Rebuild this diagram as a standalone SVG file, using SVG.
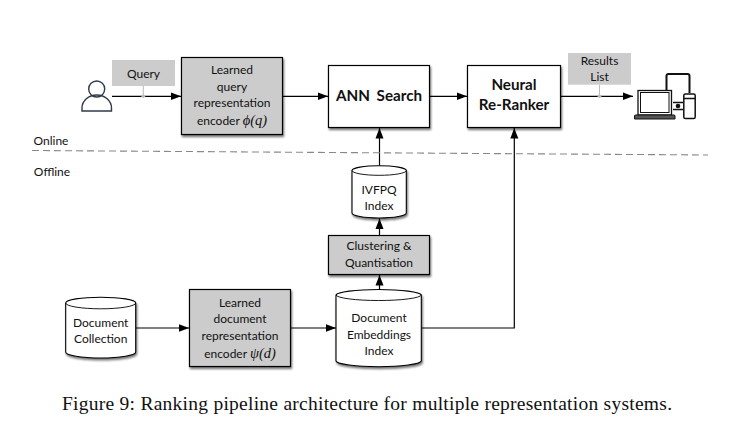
<svg xmlns="http://www.w3.org/2000/svg" width="746" height="439" viewBox="0 0 746 439">
<style>
text{font-family:"Lato","Open Sans","DejaVu Sans",sans-serif;fill:#111;text-anchor:middle;font-size:12px}
.b{font-size:15.2px;font-weight:700}
.m{font-family:"Liberation Serif",serif;font-style:italic;font-size:14.5px}
.cap{font-family:"Liberation Serif","DejaVu Serif",serif;font-size:19.5px;text-anchor:start}
.box{stroke:#000;stroke-width:1.2;filter:url(#s)}
.g{fill:#ccc}.w{fill:#fff}
.lab{fill:#ccc}
.c{fill:none;stroke:#000;stroke-width:1.2}
.t{fill:none;stroke:#bbb;stroke-width:1}
.cyl{fill:#fff;stroke:#000;stroke-width:1.1;filter:url(#s)}
.top{fill:none;stroke:#000;stroke-width:.9}
.pr{fill:none;stroke:#2f3a4a;stroke-width:1.4}
.ic{fill:none;stroke:#111;stroke-width:1.5}
</style>
<defs>
<filter id="s" x="-15%" y="-15%" width="130%" height="135%"><feDropShadow dx="1" dy="2" stdDeviation="1.2" flood-color="#000" flood-opacity=".55"/></filter>
<marker id="a" markerUnits="userSpaceOnUse" markerWidth="11" markerHeight="9" refX="10.5" refY="4.5" orient="auto"><path d="M0 .5L10.5 4.5L0 8.5z" fill="#000"/></marker>
</defs>
<rect width="746" height="439" fill="#fff"/>
<g id="connectors">
<path class="c" d="M112 96.3H181" marker-end="url(#a)"/>
<path class="c" d="M282.5 96.3H328" marker-end="url(#a)"/>
<path class="c" d="M429.5 96.3H467" marker-end="url(#a)"/>
<path class="c" d="M560.5 96.3H633" marker-end="url(#a)"/>
<path class="c" d="M379.5 165.5V128" marker-end="url(#a)"/>
<path class="c" d="M379.5 235V218.5" marker-end="url(#a)"/>
<path class="c" d="M379.5 289V275" marker-end="url(#a)"/>
<path class="c" d="M135.7 328H189" marker-end="url(#a)"/>
<path class="c" d="M290.7 328H336" marker-end="url(#a)"/>
<path class="c" d="M421.5 328H514.3V128" marker-end="url(#a)"/>
<path d="M32 150.5L708 155" fill="none" stroke="#888" stroke-width="1.1" stroke-dasharray="7 4"/>
<path class="t" d="M143.3 86V96.3M599.5 84.7V96.3"/>
<circle cx="143.3" cy="96.3" r="1.8" fill="#bbb"/>
<circle cx="599.5" cy="96.3" r="1.8" fill="#bbb"/>
</g>
<g id="user"><circle class="pr" cx="96.7" cy="89" r="8"/><path class="pr" d="M82 111V108A14.7 13 0 0 1 111.5 108V111Z"/></g>
<g id="query-label"><rect class="lab" x="112" y="60" width="63" height="26"/><text x="143.5" y="77.5">Query</text></g>
<g id="query-encoder"><rect class="box g" x="181.5" y="57.5" width="101" height="77"/>
<text x="232" y="74">Learned</text><text x="232" y="90.5">query</text><text x="232" y="107">representation</text><text x="232" y="125">encoder <tspan class="m">ϕ(q)</tspan></text></g>
<g id="ann-search"><rect class="box w" x="328.5" y="65.5" width="101" height="62"/><text class="b" x="379" y="100.5" word-spacing="3">ANN Search</text></g>
<g id="re-ranker"><rect class="box w" x="467.5" y="65.5" width="93" height="62"/><text class="b" x="514" y="90">Neural</text><text class="b" x="514" y="110">Re-Ranker</text></g>
<g id="results-label"><rect class="lab" x="568" y="53" width="63" height="31.7"/><text x="599.5" y="65">Results</text><text x="599.5" y="81">List</text></g>
<g id="devices">
<path d="M666.5 90V76Q666.5 74 668.5 74H687.5Q689.5 74 689.5 76V93" fill="none" stroke="#111" stroke-width="2"/>
<rect x="638" y="90.5" width="33.5" height="24.5" fill="none" stroke="#111" stroke-width="1.3"/>
<rect x="640.5" y="92.5" width="28.5" height="20" fill="none" stroke="#111" stroke-width="1"/>
<path d="M634.5 119H675V116Q675 115 674 115H635.5Q634.5 115 634.5 116Z" fill="#555" stroke="#111"/>
<path class="ic" d="M673 102.5H683M673 109.5H683" stroke-width="1.2"/>
<circle cx="678" cy="106" r="2.3" fill="#111"/>
<rect class="ic" x="683.8" y="94" width="11.4" height="24.6" rx="1.6"/>
<path class="ic" d="M684 98.5H695"/>
</g>
<text x="51" y="145" style="font-size:12px">Online</text>
<text x="52" y="176" style="font-size:12px">Offline</text>
<g id="ivfpq-index"><path class="cyl" d="M352 170.5A27 4.8 0 0 1 406.3 170.5V213A27 5 0 0 1 352 213Z"/><path class="top" d="M352 170.5A27 4.8 0 0 0 406.3 170.5"/>
<text x="379" y="194">IVFPQ</text><text x="379" y="210">Index</text></g>
<g id="clustering"><rect class="box g" x="328.5" y="235.5" width="101" height="39"/><text x="379" y="250">Clustering &amp;</text><text x="379" y="267">Quantisation</text></g>
<g id="document-collection"><path class="cyl" d="M65.7 303A35 5.8 0 0 1 135.7 303V352A35 6 0 0 1 65.7 352Z"/><path class="top" d="M65.7 303A35 5.8 0 0 0 135.7 303"/>
<text x="100.7" y="327">Document</text><text x="100.7" y="343">Collection</text></g>
<g id="document-encoder"><rect class="box g" x="189.5" y="289.5" width="101" height="77"/>
<text x="240" y="307">Learned</text><text x="240" y="323">document</text><text x="240" y="340">representation</text><text x="240" y="358">encoder <tspan class="m">ψ(d)</tspan></text></g>
<g id="embeddings-index"><path class="cyl" d="M336 295A42.7 5.8 0 0 1 421.3 295V361A42.7 6 0 0 1 336 361Z"/><path class="top" d="M336 295A42.7 5.8 0 0 0 421.3 295"/>
<text x="379" y="322">Document</text><text x="379" y="339">Embeddings</text><text x="379" y="355">Index</text></g>
<text class="cap" x="62" y="410" textLength="610" lengthAdjust="spacing">Figure 9: Ranking pipeline architecture for multiple representation systems.</text>
</svg>
